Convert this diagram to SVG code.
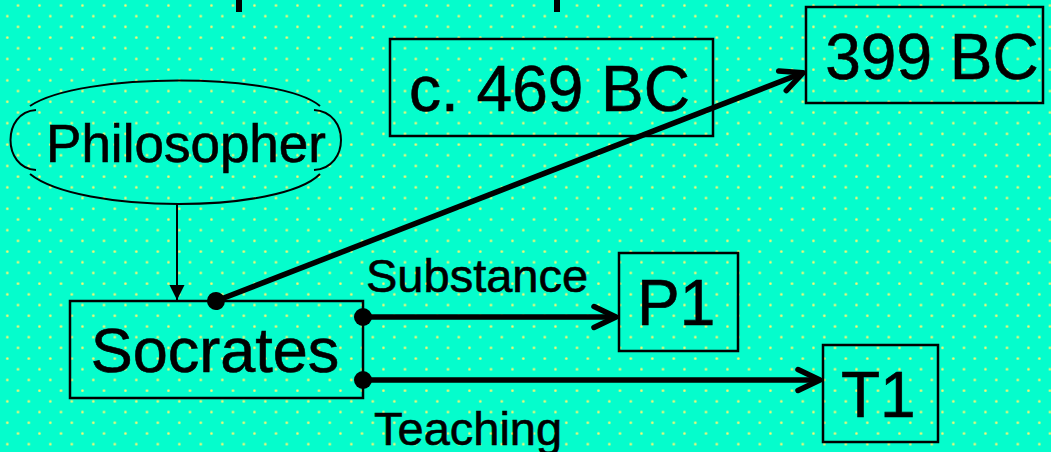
<svg xmlns="http://www.w3.org/2000/svg" width="1051" height="452" viewBox="0 0 1051 452">
  <style>
    .box { fill: none; stroke: #000; stroke-width: 2.5; }
    .lbl { font-family: "Liberation Sans", Arial, sans-serif; fill: #000; stroke: #000; stroke-width: 0.6; }
    .big { font-size: 64px; }
    .mid { font-size: 53px; }
    .small { font-size: 47px; }
    .conn { stroke: #000; stroke-width: 5.5; fill: none; stroke-linecap: butt; }
    .thin { stroke: #000; stroke-width: 2; fill: none; }
  </style>
  <defs>
    <pattern id="dots" patternUnits="userSpaceOnUse" x="0" y="0" width="21.5" height="21.4">
      <circle cx="18" cy="5.5" r="1.4" fill="#c8f484"/>
      <circle cx="18" cy="5.5" r="0.8" fill="#f6fb74"/>
      <circle cx="7.3" cy="16.2" r="1.4" fill="#c8f484"/>
      <circle cx="7.3" cy="16.2" r="0.8" fill="#f6fb74"/>
    </pattern>
    <marker id="openArrow" markerUnits="userSpaceOnUse" viewBox="-30 -15 36 30" refX="0" refY="0" markerWidth="36" markerHeight="30" orient="auto" overflow="visible">
      <path d="M -22,-10.5 L 0,0 L -22,10.5" fill="none" stroke="#000" stroke-width="5.5" stroke-linecap="round" stroke-linejoin="round"/>
    </marker>
    <marker id="dot" markerUnits="userSpaceOnUse" viewBox="-10 -10 20 20" refX="0" refY="0" markerWidth="20" markerHeight="20" orient="auto" overflow="visible">
      <circle cx="0" cy="0" r="9" fill="#000"/>
    </marker>
    <marker id="solidArrow" markerUnits="userSpaceOnUse" viewBox="-16 -8 17 16" refX="0" refY="0" markerWidth="17" markerHeight="16" orient="auto" overflow="visible">
      <path d="M -15,-7.5 L 0,0 L -15,7.5 Z" fill="#000"/>
    </marker>
  </defs>

  <rect x="0" y="0" width="1051" height="452" fill="#05fdcc"/>
  <rect x="0" y="0" width="1051" height="452" fill="url(#dots)"/>

  <!-- cut-off title fragments at the top edge -->
  <g id="title-fragments" fill="#000">
    <rect x="236" y="0" width="6" height="12"/>
    <rect x="554" y="0" width="6" height="12"/>
  </g>

  <g id="connectors">
    <line class="thin" x1="177" y1="204" x2="177" y2="300" marker-end="url(#solidArrow)"/>
    <line class="conn" x1="216" y1="301" x2="803" y2="72.8" marker-start="url(#dot)" marker-end="url(#openArrow)"/>
    <line class="conn" x1="363" y1="317" x2="616" y2="317" marker-start="url(#dot)" marker-end="url(#openArrow)"/>
    <line class="conn" x1="363" y1="380" x2="820" y2="380" marker-start="url(#dot)" marker-end="url(#openArrow)"/>
    <text class="lbl small" x="366" y="291.5">Substance</text>
    <text class="lbl small" x="374" y="445">Teaching</text>
  </g>

  <g id="philosopher">
    <path class="thin" d="M 30,106 C 80,72 280,72 320,106 M 36,110 C 2,112 2,168 36,170 M 314,110 C 350,112 350,168 314,170 M 30,174 C 80,214 280,214 320,174"/>
    <text class="lbl mid" x="186" y="162" text-anchor="middle">Philosopher</text>
  </g>

  <g id="socrates">
    <rect class="box" x="70" y="301" width="293" height="97"/>
    <text class="lbl" x="215" y="371.5" text-anchor="middle" font-size="63">Socrates</text>
  </g>

  <g id="birth">
    <rect class="box" x="390" y="39" width="323" height="97"/>
    <text class="lbl big" x="549.5" y="111" text-anchor="middle">c. 469 BC</text>
  </g>

  <g id="death">
    <rect class="box" x="806" y="7" width="237" height="96"/>
    <text class="lbl big" x="932" y="79.3" text-anchor="middle">399 BC</text>
  </g>

  <g id="p1">
    <rect class="box" x="619" y="253" width="119" height="98"/>
    <text class="lbl big" x="637" y="325">P1</text>
  </g>

  <g id="t1">
    <rect class="box" x="823" y="345" width="115" height="97"/>
    <text class="lbl big" x="841" y="417.3">T1</text>
  </g>
</svg>
